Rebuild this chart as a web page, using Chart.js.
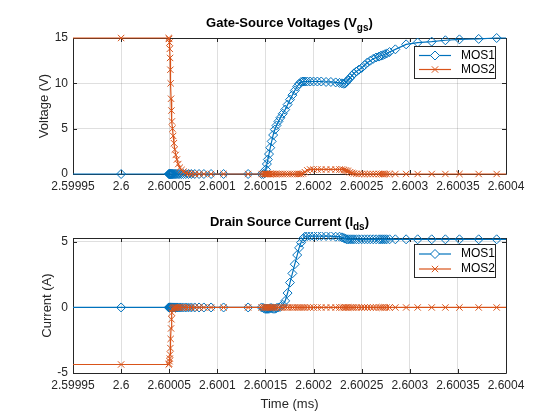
<!DOCTYPE html>
<html>
<head>
<meta charset="utf-8">
<script src="https://cdn.jsdelivr.net/npm/chart.js@4.4.1/dist/chart.umd.min.js"></script>
<style>
  html, body { margin: 0; padding: 0; background: #fff; }
  #fig { position: relative; width: 560px; height: 420px; font-family: "Liberation Sans", Arial, sans-serif; }
  #fig canvas { position: absolute; left: 0; }
  .ttl { position: absolute; left: 73px; width: 433px; text-align: center; font-weight: bold;
         font-size: 13px; line-height: 13px; white-space: nowrap; color: #000; }
  .ttl sub { font-size: 10px; vertical-align: baseline; position: relative; top: 4px; }
</style>
</head>
<body>
<div id="fig">
  <canvas id="vgsChart" width="560" height="210" style="top:0"></canvas>
  <canvas id="idsChart" width="560" height="210" style="top:210px"></canvas>
  <div class="ttl" style="top:16px">Gate-Source Voltages (V<sub>gs</sub>)</div>
  <div class="ttl" style="top:215px">Drain Source Current (I<sub>ds</sub>)</div>
</div>
<script>
// time axis (ms), shared by both subplots
const timeMs = [
  2.59989, 2.6, 2.6000495, 2.60005, 2.6000503, 2.6000506, 2.6000509, 2.6000512, 2.6000515, 2.6000519,
  2.6000523, 2.6000528, 2.6000534, 2.6000541, 2.6000549, 2.6000558, 2.6000568, 2.600058, 2.6000594, 2.600061,
  2.6000628, 2.6000648, 2.6000672, 2.60007, 2.600073, 2.6000765, 2.600081, 2.600086, 2.6000935, 2.6001065,
  2.600132, 2.600146, 2.600148, 2.6001495, 2.6001505, 2.6001515, 2.6001525, 2.6001537, 2.600155, 2.6001565,
  2.600158, 2.6001598, 2.6001615, 2.6001635, 2.6001655, 2.600168, 2.6001705, 2.600173, 2.6001755, 2.600178,
  2.6001805, 2.600183, 2.600185, 2.600187, 2.600189, 2.600191, 2.6001935, 2.6001965, 2.6002, 2.600204,
  2.600208, 2.600213, 2.600218, 2.600223, 2.600227, 2.6002295, 2.6002315, 2.600233, 2.6002345, 2.600236,
  2.600238, 2.60024, 2.600242, 2.6002445, 2.600247, 2.60025, 2.600253, 2.600256, 2.600259, 2.600262,
  2.600265, 2.600268, 2.60027, 2.600272, 2.600274, 2.600276, 2.600279, 2.600285, 2.6002962, 2.6003082,
  2.6003228, 2.600337, 2.6003516, 2.6003716, 2.6003903, 2.60041
];

// gate-source voltages (V)
const vgsMos1 = [
  0, 0, 0, 0, 0, 0, 0, 0, 0, 0,
  0, 0, 0, 0, 0, 0, 0, 0, 0, 0,
  0, 0, 0, 0, 0, 0, 0, 0, 0, 0,
  0, 0, 0, 0.1, 0.5, 1.1, 1.6, 2.2, 2.9, 3.6,
  4.3, 4.9, 5.35, 5.8, 6.2, 6.65, 7.1, 7.65, 8.2, 8.7,
  9.2, 9.65, 9.95, 10.15, 10.2, 10.2, 10.2, 10.2, 10.2, 10.2,
  10.2, 10.15, 10.15, 10.1, 10.05, 10.0, 9.95, 10.0, 10.2, 10.4,
  10.6, 10.85, 11.1, 11.3, 11.5, 11.7, 12.0, 12.3, 12.5, 12.7,
  12.85, 12.95, 13.05, 13.1, 13.2, 13.3, 13.45, 13.75, 14.3, 14.5,
  14.6, 14.75, 14.85, 14.9, 15.0, 15.0
];
const vgsMos2 = [
  15, 15, 15, 14.9, 14.5, 13.8, 12.8, 11.5, 10.0, 8.3,
  7.0, 5.8, 5.0, 4.2, 3.4, 2.7, 2.1, 1.6, 1.1, 0.7,
  0.45, 0.25, 0.12, 0.05, 0, 0, 0, 0, 0, 0,
  0, 0, 0, 0, 0, 0, 0, 0, 0, 0,
  0, 0, 0, 0, 0, 0, 0, 0, 0, 0,
  0, 0, 0, 0, 0.05, 0.2, 0.4, 0.5, 0.5, 0.5,
  0.5, 0.5, 0.5, 0.5, 0.5, 0.5, 0.45, 0.4, 0.35, 0.3,
  0.2, 0.12, 0.06, 0.02, 0, 0, 0, 0, 0, 0,
  0, 0, 0, 0, 0, 0, 0, 0, 0, 0,
  0, 0, 0, 0, 0, 0
];

// drain-source currents (A)
const idsMos1 = [
  0, 0, 0, 0, 0, 0, 0, 0, 0, 0,
  0, 0, 0, 0, 0, 0, 0, 0, 0, 0,
  0, 0, 0, 0, 0, 0, 0, 0, 0, 0,
  0, 0, -0.05, -0.1, -0.1, -0.1, -0.1, -0.1, -0.05, -0.05,
  -0.1, -0.1, -0.05, 0, 0.05, 0.2, 0.5, 1.1, 1.9, 2.6,
  3.3, 4.0, 4.55, 4.95, 5.25, 5.4, 5.45, 5.45, 5.45, 5.45,
  5.45, 5.45, 5.45, 5.4, 5.4, 5.35, 5.3, 5.25, 5.2, 5.2,
  5.2, 5.2, 5.2, 5.2, 5.2, 5.2, 5.2, 5.2, 5.2, 5.2,
  5.2, 5.2, 5.2, 5.2, 5.2, 5.2, 5.2, 5.2, 5.2, 5.2,
  5.2, 5.2, 5.2, 5.2, 5.2, 5.2
];
const idsMos2 = [
  -4.35, -4.35, -4.35, -4.3, -4.1, -3.9, -3.6, -3.1, -2.4, -1.6,
  -0.9, -0.4, -0.15, -0.05, 0, 0, 0, 0, 0, 0,
  0, 0, 0, 0, 0, 0, 0, 0, 0, 0,
  0, 0, 0, 0, 0, 0, 0, 0, 0, 0,
  0, 0, 0, 0, 0, 0, 0, 0, 0, 0,
  0, 0, 0, 0, 0, 0, 0, 0, 0, 0,
  0, 0, 0, 0, 0, 0, 0, 0, 0, 0,
  0, 0, 0, 0, 0, 0, 0, 0, 0, 0,
  0, 0, 0, 0, 0, 0, 0, 0, 0, 0,
  0, 0, 0, 0, 0, 0
];

// ticks and axis limits
const xTicks = [2.59995, 2.6, 2.60005, 2.6001, 2.60015, 2.6002, 2.60025, 2.6003, 2.60035, 2.6004];
const vgsTicks = [0, 5, 10, 15];
const vgsLimits = [0, 15];
const idsTicks = [-5, 0, 5];
const idsLimits = [-5, 5.3];

const blue = '#0072BD';
const orange = '#D95319';
const axisColor = '#262626';
const gridColor = 'rgba(38,38,38,0.15)';

Chart.defaults.font.family = "'Liberation Sans', Arial, sans-serif";
Chart.defaults.font.size = 12;
Chart.defaults.color = axisColor;

const toPoints = ys => timeMs.map((t, i) => ({ x: t, y: ys[i] }));
const fmtTick = v => String(parseFloat(Number(v).toFixed(5)));
const px = v => Math.round(v) + 0.5;

// matlab-ish box, inward ticks and boxed legend
function matlabAxes(legend) {
  return {
    id: 'matlabAxes',
    beforeDatasetsDraw(chart) {
      const { ctx, chartArea: a, scales } = chart;
      ctx.save();
      ctx.strokeStyle = axisColor;
      ctx.lineWidth = 1;
      ctx.beginPath();
      ctx.rect(px(a.left), px(a.top), Math.round(a.right) - Math.round(a.left), Math.round(a.bottom) - Math.round(a.top));
      scales.x.ticks.forEach(t => {
        const x = px(scales.x.getPixelForValue(t.value));
        ctx.moveTo(x, a.bottom); ctx.lineTo(x, a.bottom - 4);
        ctx.moveTo(x, a.top); ctx.lineTo(x, a.top + 4);
      });
      scales.y.ticks.forEach(t => {
        const y = px(scales.y.getPixelForValue(t.value));
        ctx.moveTo(a.left, y); ctx.lineTo(a.left + 4, y);
        ctx.moveTo(a.right, y); ctx.lineTo(a.right - 4, y);
      });
      ctx.stroke();
      ctx.restore();
    },
    afterDraw(chart) {
      const { ctx } = chart;
      const { x, y, w, h, rows } = legend;
      ctx.save();
      ctx.fillStyle = '#fff';
      ctx.fillRect(x, y, w, h);
      ctx.strokeStyle = axisColor;
      ctx.lineWidth = 1;
      ctx.strokeRect(x + 0.5, y + 0.5, w, h);
      chart.data.datasets.forEach((ds, i) => {
        const ly = y + rows[i];
        const mx = x + 21;
        const r = 4.5;
        ctx.strokeStyle = ds.borderColor;
        ctx.lineWidth = 1.2;
        ctx.beginPath();
        ctx.moveTo(x + 5, ly); ctx.lineTo(x + 37, ly);
        ctx.stroke();
        ctx.lineWidth = 1;
        ctx.beginPath();
        if (ds.pointStyle === 'rectRot') {
          ctx.moveTo(mx - r, ly); ctx.lineTo(mx, ly - r); ctx.lineTo(mx + r, ly); ctx.lineTo(mx, ly + r);
          ctx.closePath();
          ctx.fillStyle = '#fff';
          ctx.fill();
        } else {
          const d = r * Math.SQRT1_2;
          ctx.moveTo(mx - d, ly - d); ctx.lineTo(mx + d, ly + d);
          ctx.moveTo(mx + d, ly - d); ctx.lineTo(mx - d, ly + d);
        }
        ctx.stroke();
        ctx.fillStyle = '#000';
        ctx.font = "12px 'Liberation Sans', Arial, sans-serif";
        ctx.textBaseline = 'middle';
        ctx.textAlign = 'left';
        ctx.fillText(ds.label, x + 47, ly);
      });
      ctx.restore();
    }
  };
}

function series(label, ys, color, style, order) {
  return {
    label: label,
    data: toPoints(ys),
    borderColor: color,
    backgroundColor: 'rgba(0,0,0,0)',
    borderWidth: 1.2,
    pointStyle: style,
    pointRadius: 4.5,
    pointBorderWidth: 1,
    pointBorderColor: color,
    pointBackgroundColor: 'rgba(0,0,0,0)',
    tension: 0,
    order: order,
    clip: { left: 0, right: 0, top: 6, bottom: 6 }
  };
}

function makeChart(id, cfg) {
  return new Chart(document.getElementById(id), {
    type: 'line',
    data: {
      datasets: [
        series('MOS1', cfg.mos1, blue, 'rectRot', 1),
        series('MOS2', cfg.mos2, orange, 'crossRot', 0)
      ]
    },
    options: {
      responsive: false,
      animation: false,
      events: [],
      layout: { padding: { left: 0, right: 54, top: cfg.padTop, bottom: 0 } },
      plugins: { legend: { display: false }, tooltip: { enabled: false } },
      scales: {
        x: {
          type: 'linear',
          min: xTicks[0],
          max: xTicks[xTicks.length - 1],
          afterBuildTicks: s => { s.ticks = xTicks.map(v => ({ value: v })); },
          afterFit: s => { s.height = cfg.xHeight; },
          grid: { color: gridColor, drawTicks: false },
          border: { display: false },
          ticks: { padding: 5, maxRotation: 0, autoSkip: false, callback: v => fmtTick(v) },
          title: { display: !!cfg.xTitle, text: cfg.xTitle || '', font: { size: 13 }, padding: { top: 0, bottom: 8 } }
        },
        y: {
          type: 'linear',
          min: cfg.yLimits[0],
          max: cfg.yLimits[1],
          afterBuildTicks: s => { s.ticks = cfg.yTicks.map(v => ({ value: v })); },
          afterFit: s => { s.width = 73; },
          grid: { color: gridColor, drawTicks: false },
          border: { display: false },
          ticks: { padding: 5, callback: v => String(v) },
          title: { display: true, text: cfg.yTitle, font: { size: 13 }, padding: { top: cfg.yTitlePad, bottom: 0 } }
        }
      }
    },
    plugins: [matlabAxes(cfg.legend)]
  });
}

makeChart('vgsChart', {
  mos1: vgsMos1, mos2: vgsMos2, yTicks: vgsTicks, yLimits: vgsLimits, yTitle: 'Voltage (V)', yTitlePad: 37,
  padTop: 38, xHeight: 36,
  legend: { x: 414, y: 46, w: 81, h: 32, rows: [9.5, 23.5] }
});

makeChart('idsChart', {
  mos1: idsMos1, mos2: idsMos2, yTicks: idsTicks, yLimits: idsLimits, yTitle: 'Current (A)', yTitlePad: 40,
  padTop: 28, xHeight: 47, xTitle: 'Time (ms)',
  legend: { x: 414, y: 34, w: 81, h: 33, rows: [10, 25] }
});
</script>
</body>
</html>
